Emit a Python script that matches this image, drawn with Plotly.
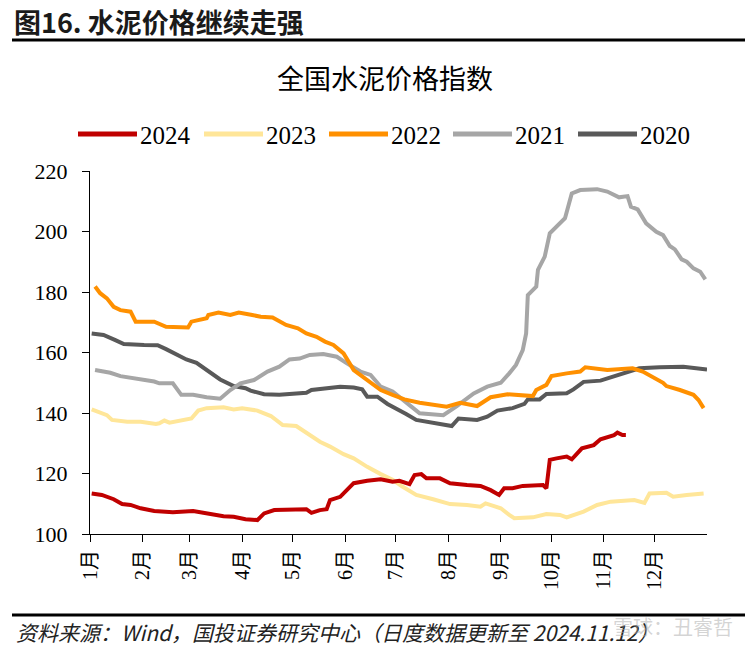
import plotly.graph_objects as go

# ---------------- data (day of year, index value) ----------------
months = ["1月", "2月", "3月", "4月", "5月", "6月", "7月", "8月", "9月", "10月", "11月", "12月"]
month_start_days = [0, 31, 59, 90, 120, 151, 181, 212, 243, 273, 304, 334]

days_2024 = [1, 7, 14, 19, 24, 30, 38, 49, 61, 69, 79, 85, 92, 99, 103, 109, 120, 128, 131, 136, 140, 142,
             148, 152, 156, 164, 172, 179, 183, 189, 192, 196, 199, 207, 213, 223, 231, 237, 242, 245, 250,
             256, 268, 270, 272, 276, 282, 285, 291, 298, 302, 310, 312, 315, 317]
vals_2024 = [113.4, 112.9, 111.5, 109.9, 109.6, 108.5, 107.6, 107.2, 107.6, 106.8, 105.9, 105.7, 104.9, 104.6,
             106.8, 107.9, 107.9, 108.2, 107.0, 107.9, 108.2, 111.2, 112.3, 114.5, 116.8, 117.6, 118.1, 117.3,
             117.6, 116.5, 119.5, 119.8, 118.4, 118.4, 116.8, 116.2, 115.9, 114.5, 112.9, 115.1, 115.1, 115.9,
             116.2, 115.1, 124.5, 125.0, 125.6, 124.7, 128.3, 129.4, 131.3, 132.7, 133.5, 132.7, 132.7]

days_2023 = [1, 10, 13, 22, 30, 39, 41, 44, 47, 53, 60, 64, 69, 79, 85, 90, 99, 107, 114, 122, 128, 136, 142,
             150, 156, 164, 172, 179, 185, 193, 203, 213, 223, 231, 234, 243, 248, 251, 262, 270, 278, 282,
             292, 300, 308, 322, 328, 331, 341, 345, 353, 363]
vals_2023 = [141.2, 139.3, 137.7, 137.1, 137.1, 136.4, 136.6, 137.5, 136.8, 137.4, 138.2, 140.8, 141.6, 141.9,
             141.2, 141.6, 140.8, 139.0, 136.0, 135.7, 133.3, 130.5, 128.9, 126.4, 125.0, 122.2, 119.8, 117.9,
             115.6, 112.9, 111.5, 109.9, 109.6, 109.0, 110.1, 108.5, 106.3, 105.2, 105.5, 106.6, 106.3, 105.5,
             107.4, 109.6, 110.7, 111.2, 110.3, 113.4, 113.6, 112.3, 112.9, 113.4]

days_2022 = [3, 6, 10, 14, 18, 24, 27, 38, 45, 58, 60, 69, 70, 76, 83, 88, 96, 101, 108, 116, 123, 128, 134,
             139, 144, 150, 156, 164, 172, 179, 186, 195, 203, 211, 219, 229, 237, 247, 262, 264, 270, 273,
             282, 290, 293, 306, 321, 327, 339, 341, 349, 357, 360, 363]
vals_2022 = [181.8, 179.6, 177.9, 175.1, 174.0, 173.5, 170.2, 170.2, 168.5, 168.3, 170.2, 171.3, 172.4, 173.2,
             172.4, 173.2, 172.4, 171.8, 171.6, 169.1, 168.0, 166.3, 165.2, 163.6, 162.5, 159.7, 154.2, 150.9,
             147.6, 146.0, 144.5, 143.4, 142.6, 142.1, 143.4, 142.3, 145.2, 146.2, 145.6, 147.6, 149.3, 152.2,
             153.1, 153.7, 155.1, 154.2, 154.8, 153.7, 150.0, 148.9, 147.6, 146.0, 144.3, 141.6]

days_2021 = [3, 12, 18, 26, 30, 38, 41, 49, 54, 61, 69, 77, 83, 89, 97, 105, 112, 118, 124, 130, 138, 146,
             152, 160, 166, 172, 179, 184, 189, 195, 209, 217, 227, 235, 243, 248, 252, 256, 258, 259, 264,
             265, 269, 272, 276, 281, 285, 290, 300, 306, 313, 318, 320, 324, 329, 335, 339, 343, 346, 350,
             353, 357, 361, 364]
vals_2021 = [154.2, 153.3, 152.2, 151.5, 150.9, 150.4, 149.8, 149.8, 146.0, 146.0, 145.2, 144.7, 147.6, 149.8,
             150.9, 153.7, 155.3, 157.7, 158.0, 159.2, 159.5, 158.6, 156.4, 153.7, 152.6, 148.7, 147.1, 145.0,
             142.6, 139.9, 139.3, 142.3, 146.5, 148.7, 150.0, 153.1, 155.9, 160.8, 166.3, 179.0, 181.8, 187.3,
             191.7, 199.4, 201.6, 204.4, 212.6, 213.7, 214.0, 213.2, 211.3, 211.7, 208.2, 207.3, 202.7, 199.9,
             198.8, 195.2, 194.1, 190.8, 190.0, 187.8, 186.7, 184.2]

days_2020 = [1, 8, 15, 20, 32, 40, 45, 50, 57, 63, 69, 77, 85, 92, 95, 103, 112, 120, 128, 131, 140, 148, 156,
             161, 164, 170, 176, 183, 187, 193, 205, 214, 218, 229, 235, 241, 250, 257, 259, 266, 270, 282,
             286, 292, 302, 310, 319, 325, 337, 351, 365]
vals_2020 = [166.3, 165.8, 164.1, 162.8, 162.5, 162.4, 161.1, 159.7, 157.7, 156.6, 154.2, 151.1, 148.9, 148.2,
             147.4, 146.2, 146.0, 146.5, 146.7, 147.6, 148.2, 148.7, 148.4, 147.8, 145.4, 145.4, 143.0, 141.0,
             139.7, 137.7, 136.4, 135.7, 138.2, 137.7, 138.8, 140.8, 141.6, 143.0, 144.5, 144.5, 146.3, 146.5,
             147.8, 150.3, 150.7, 152.2, 153.7, 154.8, 155.1, 155.3, 154.4]

series_names = ["2024", "2023", "2022", "2021", "2020"]
series_days = [days_2024, days_2023, days_2022, days_2021, days_2020]
series_vals = [vals_2024, vals_2023, vals_2022, vals_2021, vals_2020]
colors = ["#C00000", "#FFE699", "#FF9000", "#A6A6A6", "#595959"]

y_ticks = [100, 120, 140, 160, 180, 200, 220]

# ---------------- figure ----------------
# the page body margin is removed (see post_script), so figure pixels == window pixels
W, H = 749, 648
L, R, T, B = 90, 42, 171, 114
PW, PH = W - L - R, H - T - B


def px2x(px):
    """figure pixel x -> paper x"""
    return (px - L) / PW


def px2y(py):
    """figure pixel y -> paper y"""
    return (H - B - py) / PH


fig = go.Figure()
# draw older years first so 2024 sits on top
for name, d, v, c in reversed(list(zip(series_names, series_days, series_vals, colors))):
    fig.add_trace(go.Scatter(x=d, y=v, mode="lines", name=name,
                             line=dict(color=c, width=4), showlegend=False))

serif = "Liberation Serif, Times New Roman, Noto Sans CJK SC, serif"
cjk = "Noto Sans CJK SC, sans-serif"

shapes = []
annotations = []

# header
annotations.append(dict(text="<b>图16. 水泥价格继续走强</b>", x=px2x(12), y=px2y(21), xref="paper", yref="paper",
                        xanchor="left", yanchor="middle", showarrow=False,
                        font=dict(family=cjk, size=27, color="#1a1a1a")))
shapes.append(dict(type="line", xref="paper", yref="paper", x0=px2x(12), x1=px2x(745),
                   y0=px2y(40), y1=px2y(40), line=dict(color="black", width=3)))
# chart title
annotations.append(dict(text="全国水泥价格指数", x=px2x(385), y=px2y(77), xref="paper", yref="paper",
                        xanchor="center", yanchor="middle", showarrow=False,
                        font=dict(family=cjk, size=27, color="black")))

# manual legend
leg_x = [78, 204, 329, 453, 578]
for name, c, lx in zip(series_names, colors, leg_x):
    shapes.append(dict(type="line", xref="paper", yref="paper", x0=px2x(lx), x1=px2x(lx + 59),
                       y0=px2y(134), y1=px2y(134), line=dict(color=c, width=5)))
    annotations.append(dict(text=name, x=px2x(lx + 60), y=px2y(135), xref="paper", yref="paper",
                            xanchor="left", yanchor="middle", showarrow=False,
                            font=dict(family=serif, size=25, color="black")))

# footer
shapes.append(dict(type="line", xref="paper", yref="paper", x0=px2x(12), x1=px2x(745),
                   y0=px2y(615), y1=px2y(615), line=dict(color="black", width=3)))
annotations.append(dict(text="<i>资料来源：Wind，国投证券研究中心（日度数据更新至 2024.11.12）</i>",
                        x=px2x(14), y=px2y(632), xref="paper", yref="paper",
                        xanchor="left", yanchor="middle", showarrow=False,
                        font=dict(family=cjk, size=21, color="#222222")))
annotations.append(dict(text="雪球：丑睿哲", x=px2x(735), y=px2y(626), xref="paper", yref="paper",
                        xanchor="right", yanchor="middle", showarrow=False,
                        font=dict(family=cjk, size=20, color="rgba(170,170,170,0.5)")))

fig.update_layout(
    width=W, height=H,
    margin=dict(l=L, r=R, t=T, b=B, autoexpand=False),
    paper_bgcolor="white", plot_bgcolor="white",
    shapes=shapes, annotations=annotations,
    showlegend=False,
    xaxis=dict(range=[0, 365], tickmode="array", tickvals=month_start_days, ticktext=months,
               tickangle=-90, showgrid=False, zeroline=False, showline=True, linecolor="black",
               linewidth=1, ticks="outside", ticklen=7, tickcolor="black", tickwidth=1,
               tickfont=dict(family=serif, size=20, color="black")),
    yaxis=dict(range=[100, 220], tickmode="array", tickvals=y_ticks, showgrid=False, zeroline=False,
               showline=True, linecolor="black", linewidth=1, ticks="outside", ticklen=7,
               tickcolor="black", tickwidth=1, ticklabelstandoff=10,
               tickfont=dict(family=serif, size=22, color="black")),
)

fig.write_html("out.html", config={"displayModeBar": False},
               post_script="document.body.style.margin='0px';")
